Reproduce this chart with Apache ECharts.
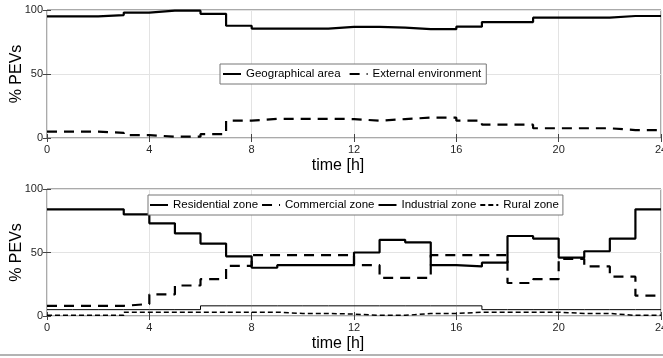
<!DOCTYPE html>
<html>
<head>
<meta charset="utf-8">
<script src="https://cdn.jsdelivr.net/npm/echarts@6/dist/echarts.min.js"></script>
<style>
  html, body { margin: 0; padding: 0; background: #fff; }
  #chart { width: 663px; height: 358px; }
</style>
</head>
<body>
<div id="chart"></div>
<script>
// hourly values, one per hour bin [h, h+1)
var hours = [0,1,2,3,4,5,6,7,8,9,10,11,12,13,14,15,16,17,18,19,20,21,22,23];

var geoArea   = [95,95,96,98,99.5,99.5,97,87.7,85.5,85.5,85.5,86.8,86.8,86.2,85,85,87,90.6,90.6,94,94,94,95.3,95.3];
var extEnv    = [5,5,4,2.3,1,1,3,13.5,15,15,15,14.8,13.5,14.8,15.9,15.9,13.5,10.4,10.4,7.6,7.6,7.6,6.2,6.2];

var residential = [84,84,84,80,73,65,57,47,38,40,40,40,50,60,58,40,39,42,63,61,46,51,61,84];
var commercial  = [8,8,8,9.5,17,24,29,39.5,48,48,48,48,40,30,30,48,48,48,26,29,45,39,31,16];
var industrial  = [5,5,5,5,5,5,8,8,8,8,8,8,8,8,8,8,8,5,5,5,5,5,5,5];
var rural       = [0.5,0.5,0.5,3,3,3,3,3,3,2,2,1.5,0.5,0.5,2,2,3,3,3,3,2,2,0.5,0.5];

// step data: add closing point at 24h
function steps(vals) {
    var pts = hours.map(function (h, i) { return [h, vals[i]]; });
    pts.push([24, vals[vals.length - 1]]);
    return pts;
}

var myChart = echarts.init(document.getElementById('chart'), null, { renderer: 'canvas' });

var tickFont = { fontFamily: 'Liberation Sans, Arial, sans-serif', fontSize: 11, color: '#262626' };

function xAxisFor(gi) {
    return {
        type: 'value', gridIndex: gi, min: 0, max: 24, interval: 4,
        name: 'time [h]', nameLocation: 'middle', nameGap: 20, nameMoveOverlap: false,
        nameTextStyle: { fontFamily: 'Liberation Sans, Arial', fontSize: 16, color: '#000', padding: [0, 32, 0, 0] },
        axisLine: { show: false },
        axisTick: { show: true, inside: true, length: 4, lineStyle: { color: '#444' } },
        axisLabel: Object.assign({ margin: 6 }, tickFont),
        splitLine: { show: true, lineStyle: { color: '#e3e3e3', width: 1 } }
    };
}
function xTopFor(gi) {
    return {
        type: 'value', gridIndex: gi, min: 0, max: 24, interval: 4, position: 'top',
        axisLine: { show: false }, axisLabel: { show: false }, splitLine: { show: false },
        axisTick: { show: true, inside: true, length: 4, lineStyle: { color: '#444' } }
    };
}
function yAxisFor(gi) {
    return {
        type: 'value', gridIndex: gi, min: 0, max: 100, interval: 50,
        name: '% PEVs', nameLocation: 'middle', nameGap: 22, nameMoveOverlap: false,
        nameTextStyle: { fontFamily: 'Liberation Sans, Arial', fontSize: 16, color: '#000' },
        axisLine: { show: false },
        axisTick: { show: true, inside: true, length: 4, lineStyle: { color: '#444' } },
        axisLabel: Object.assign({ margin: 4 }, tickFont),
        splitLine: { show: true, lineStyle: { color: '#e3e3e3', width: 1 } }
    };
}
function yRightFor(gi) {
    return {
        type: 'value', gridIndex: gi, min: 0, max: 100, interval: 50, position: 'right',
        axisLine: { show: false }, axisLabel: { show: false }, splitLine: { show: false },
        axisTick: { show: true, inside: true, length: 4, lineStyle: { color: '#444' } }
    };
}

function stepLine(name, vals, xi, yi, width, dash) {
    return {
        name: name, type: 'line', step: 'end', xAxisIndex: xi, yAxisIndex: yi,
        data: steps(vals), symbol: 'none', animation: false, silent: true,
        lineStyle: { color: '#000', width: width, type: dash || 'solid' },
        itemStyle: { color: '#000' }
    };
}

var legendText = { fontFamily: 'Liberation Sans, Arial', fontSize: 11.5, color: '#000' };
var legendItem = { color: 'transparent', borderWidth: 0, opacity: 0 };

var option = {
    animation: false,
    grid: [
        { left: 47, right: 2, top: 10, height: 128, show: true, borderColor: '#555', borderWidth: 1, outerBoundsMode: 'none', containLabel: false },
        { left: 47, right: 2, top: 189, height: 127, show: true, borderColor: '#555', borderWidth: 1, outerBoundsMode: 'none', containLabel: false }
    ],
    xAxis: [xAxisFor(0), xAxisFor(1), xTopFor(0), xTopFor(1)],
    yAxis: [yAxisFor(0), yAxisFor(1), yRightFor(0), yRightFor(1)],
    legend: [
        {
            data: ['Geographical area', 'External environment'],
            left: 220, top: 64, orient: 'horizontal',
            itemWidth: 18, itemHeight: 10, itemGap: 8,
            padding: [4, 5, 4, 2],
            itemStyle: legendItem,
            backgroundColor: '#fff', borderColor: '#777', borderWidth: 1, borderRadius: 0,
            textStyle: legendText, selectedMode: false
        },
        {
            data: ['Residential zone', 'Commercial zone', 'Industrial zone', 'Rural zone'],
            left: 148, top: 195, orient: 'horizontal',
            itemWidth: 18, itemHeight: 10, itemGap: 3,
            padding: [4, 4, 4, 1],
            itemStyle: legendItem,
            backgroundColor: '#fff', borderColor: '#777', borderWidth: 1, borderRadius: 0,
            textStyle: legendText, selectedMode: false
        }
    ],
    graphic: [
        { type: 'line', shape: { x1: 0, y1: 355, x2: 663, y2: 355 }, style: { stroke: '#9a9a9a', lineWidth: 1.5 } }
    ],
    series: [
        stepLine('Geographical area', geoArea, 0, 0, 2.2),
        stepLine('External environment', extEnv, 0, 0, 2.2, [10, 7]),
        stepLine('Residential zone', residential, 1, 1, 2.2),
        stepLine('Commercial zone', commercial, 1, 1, 2.2, [10, 7]),
        stepLine('Industrial zone', industrial, 1, 1, 1),
        stepLine('Rural zone', rural, 1, 1, 1.5, [5, 3])
    ]
};

myChart.setOption(option);
</script>
</body>
</html>
